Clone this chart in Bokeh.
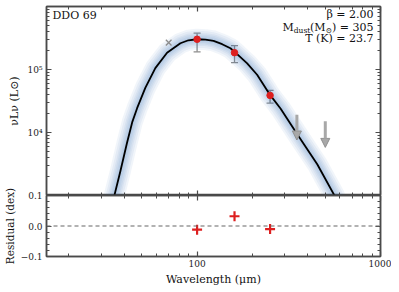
from bokeh.plotting import figure
from bokeh.layouts import column
from bokeh.models import (ColumnDataSource, FixedTicker, LogAxis, LinearAxis, Label,
                          Arrow, NormalHead, Span, Whisker, TeeHead, CustomJSTickFormatter)
from bokeh.embed import file_html
from bokeh.resources import INLINE

# ---------------- data ----------------
galaxy = "DDO 69"
beta_txt = "2.00"
mdust_txt = "305"
temp_txt = "23.7"

wave = [100, 160, 250]
lum = [3.02e5, 1.85e5, 3.88e4]
lum_hi = [3.77e5, 2.39e5, 4.67e4]
lum_lo = [1.91e5, 1.29e5, 2.93e4]
resid = [-0.012, 0.032, -0.010]

excl_wave = [70]
excl_lum = [2.67e5]

lim_wave = [350, 500]
lim_from = [1.92e4, 1.51e4]
lim_to = [7.6e3, 5.8e3]

model_wave = [35.4, 38.2, 41.5, 44.4, 47.1, 52.2, 59.2, 68.6, 81.1, 89.7, 100, 111, 123, 137,
              152, 162, 187.5, 212.5, 251, 285, 351, 452, 561]
model_lum = [1.0e3, 2.45e3, 6.87e3, 1.49e4, 2.43e4, 5.11e4, 1.05e5, 1.84e5, 2.61e5, 2.91e5,
             3.02e5, 2.98e5, 2.84e5, 2.52e5, 2.17e5, 1.85e5, 1.25e5, 8.26e4, 3.88e4, 2.40e4,
             9.46e3, 3.13e3, 1.0e3]

x_major = [100, 1000]
x_minor = [20, 30, 40, 50, 60, 70, 80, 90, 200, 300, 400, 500, 600, 700, 800, 900]
y_major = [1e4, 1e5]
y_minor = [2e3, 3e3, 4e3, 5e3, 6e3, 7e3, 8e3, 9e3,
           2e4, 3e4, 4e4, 5e4, 6e4, 7e4, 8e4, 9e4,
           2e5, 3e5, 4e5, 5e5, 6e5, 7e5, 8e5, 9e5]
r_major = [-0.1, 0.0, 0.1]
r_minor = [-0.08, -0.06, -0.04, -0.02, 0.02, 0.04, 0.06, 0.08]

# ---------------- styling ----------------
FONT = "DejaVu Serif"
AX = "#4a4a4a"
RED = "#dd1f1f"
GREY = "#8c8c8c"

pow_fmt = CustomJSTickFormatter(code="""
const sup = {'0':'\u2070','1':'\u00b9','2':'\u00b2','3':'\u00b3','4':'\u2074','5':'\u2075',
             '6':'\u2076','7':'\u2077','8':'\u2078','9':'\u2079','-':'\u207b'};
const e = Math.round(Math.log10(tick));
return '10' + String(e).split('').map(c => sup[c]).join('');
""")
int_fmt = CustomJSTickFormatter(code="return tick.toFixed(0);")
res_fmt = CustomJSTickFormatter(code="return tick.toFixed(1).replace('-', '\u2212');")


def style_axis(ax, ticker, fmt=None, labels=True):
    ax.ticker = ticker
    ax.major_tick_in = 5
    ax.major_tick_out = 0
    ax.minor_tick_in = 3
    ax.minor_tick_out = 0
    ax.axis_line_color = AX
    ax.axis_line_width = 1.5
    ax.major_tick_line_color = AX
    ax.minor_tick_line_color = AX
    ax.major_tick_line_width = 1.2
    ax.minor_tick_line_width = 1
    ax.major_label_text_font = FONT
    ax.major_label_text_font_size = "9px"
    ax.major_label_text_color = "#222222"
    ax.axis_label_text_font = FONT
    ax.axis_label_text_font_style = "normal"
    ax.axis_label_text_font_size = "11px"
    ax.axis_label_text_color = "#111111"
    if fmt is not None:
        ax.formatter = fmt
    if not labels:
        ax.major_label_text_alpha = 0
        ax.major_label_text_font_size = "1px"
        ax.major_label_standoff = 0


def lab(fig, x, y, text, size="11px", align="left"):
    fig.add_layout(Label(x=x, y=y, x_units="screen", y_units="screen", text=text,
                         text_font=FONT, text_font_size=size, text_color="#111111",
                         text_align=align, text_baseline="middle"))


# ---------------- top panel ----------------
p1 = figure(width=391, height=195, x_axis_type="log", y_axis_type="log",
            x_range=(15.1, 1000), y_range=(1e3, 1e6),
            min_border_left=46, min_border_right=11, min_border_top=6, min_border_bottom=0,
            output_backend="svg", toolbar_location=None)
p1.grid.visible = False
p1.outline_line_color = AX
p1.outline_line_width = 1.5

style_axis(p1.xaxis[0], FixedTicker(ticks=x_major, minor_ticks=x_minor), labels=False)
style_axis(p1.yaxis[0], FixedTicker(ticks=y_major, minor_ticks=y_minor), fmt=pow_fmt)
p1.yaxis[0].major_label_standoff = 4
p1.yaxis[0].axis_label = "\u03bdL\u03bd (L\u2299)"
p1.yaxis[0].axis_label_standoff = 3
ax_top = LogAxis()
style_axis(ax_top, FixedTicker(ticks=x_major, minor_ticks=x_minor), labels=False)
p1.add_layout(ax_top, "above")
ax_right = LogAxis()
style_axis(ax_right, FixedTicker(ticks=y_major, minor_ticks=y_minor), labels=False)
p1.add_layout(ax_right, "right")

model = ColumnDataSource(dict(x=model_wave, y=model_lum))
for w in [21, 17, 13, 10, 7, 4]:
    p1.line("x", "y", source=model, line_color="#3a78b5", line_alpha=0.07, line_width=w,
            line_join="round", line_cap="round")
p1.line("x", "y", source=model, line_color="black", line_width=1.8, line_join="round")

p1.scatter(excl_wave, excl_lum, marker="x", size=8, line_color=GREY, line_width=1.3)

err = ColumnDataSource(dict(x=wave, hi=lum_hi, lo=lum_lo))
p1.add_layout(Whisker(source=err, base="x", upper="hi", lower="lo", dimension="height",
                      line_color=GREY, line_width=1.3,
                      upper_head=TeeHead(size=7, line_color=GREY, line_width=1.3),
                      lower_head=TeeHead(size=7, line_color=GREY, line_width=1.3)))
p1.scatter(wave, lum, size=6.5, fill_color=RED, line_color=RED)

lims = ColumnDataSource(dict(x=lim_wave, y0=lim_from, y1=lim_to))
p1.add_layout(Arrow(source=lims, x_start="x", y_start="y0", x_end="x", y_end="y1",
                    line_color="#a8a8a8", line_width=3,
                    end=NormalHead(size=9, fill_color="#a8a8a8", line_color="#909090",
                                   line_width=1)))

# texts (screen units relative to the frame: x from left, y from bottom)
lab(p1, 6, 180, galaxy, "11px")
lab(p1, 327, 181, "\u03b2 = " + beta_txt, "11px", align="right")
lab(p1, 327, 168.5, ") = " + mdust_txt, "11px", align="right")
lab(p1, 285.5, 165.5, "\u2299", "7.5px", align="right")
lab(p1, 279, 168.5, "(M", "11px", align="right")
lab(p1, 263.8, 165.5, "dust", "7.5px", align="right")
lab(p1, 247.3, 168.5, "M", "11px", align="right")
lab(p1, 327, 157, "T (K) = " + temp_txt, "11px", align="right")

# ---------------- residual panel ----------------
p2 = figure(width=391, height=103, x_axis_type="log", x_range=p1.x_range, y_range=(-0.1, 0.1),
            min_border_left=46, min_border_right=11, min_border_top=10, min_border_bottom=30,
            output_backend="svg", toolbar_location=None)
p2.styles = {"margin-top": "-10px"}
p2.border_fill_color = None
p2.grid.visible = False
p2.outline_line_color = AX
p2.outline_line_width = 1.5

style_axis(p2.xaxis[0], FixedTicker(ticks=x_major, minor_ticks=x_minor), fmt=int_fmt)
p2.xaxis[0].major_label_standoff = 3
p2.xaxis[0].axis_label = "Wavelength (\u03bcm)"
p2.xaxis[0].axis_label_standoff = 3
style_axis(p2.yaxis[0], FixedTicker(ticks=r_major, minor_ticks=r_minor), fmt=res_fmt)
p2.yaxis[0].major_label_standoff = 4
p2.yaxis[0].axis_label = "Residual (dex)"
p2.yaxis[0].axis_label_text_font_size = "10.5px"
p2.yaxis[0].axis_label_standoff = 2
ax_top2 = LogAxis()
style_axis(ax_top2, FixedTicker(ticks=x_major, minor_ticks=x_minor), labels=False)
p2.add_layout(ax_top2, "above")
ax_right2 = LinearAxis()
style_axis(ax_right2, FixedTicker(ticks=r_major, minor_ticks=r_minor), labels=False)
p2.add_layout(ax_right2, "right")

p2.add_layout(Span(location=0, dimension="width", line_color="#666666", line_width=1.2,
                   line_dash="4 3"))
p2.scatter(wave, resid, marker="cross", size=10, line_color=RED, line_width=2.2)

layout = column(p1, p2, spacing=0)
open("out.html", "w").write(file_html(layout, INLINE))
